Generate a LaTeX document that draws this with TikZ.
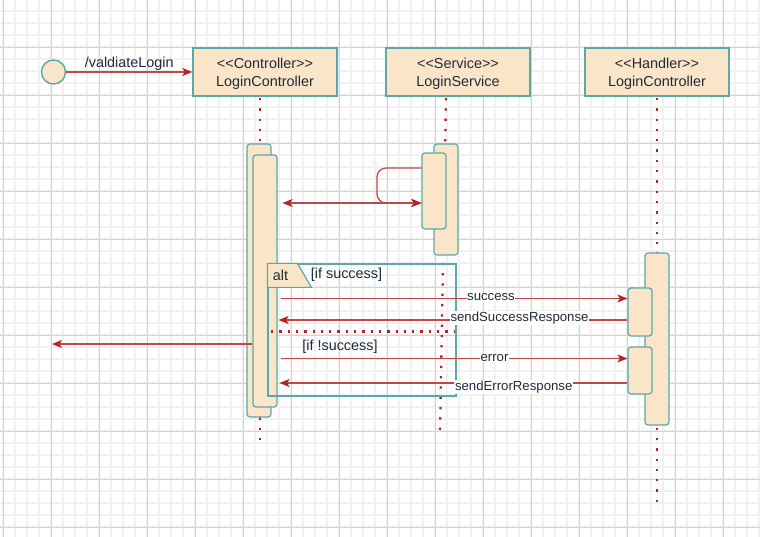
\documentclass[tikz,border=0pt]{standalone}
\usepackage{fontspec}
\setmainfont{Liberation Sans}
\usetikzlibrary{arrows.meta}
\definecolor{peach}{HTML}{FBE5C8}
\definecolor{boxline}{HTML}{5AA9A6}
\definecolor{msgred}{HTML}{B52424}
\definecolor{msgline}{HTML}{C04848}
\definecolor{ink}{HTML}{1E2B3A}
\definecolor{gridmajor}{HTML}{D3D3D3}
\definecolor{gridminor}{HTML}{F1F1F1}
% stereotype brackets, kept as two separate angle characters
\newcommand{\stereo}[1]{<\kern0pt<#1>\kern0pt>}
\begin{document}
\begin{tikzpicture}[x=1pt,y=-1pt,
  lbl/.style={font=\fontsize{14.4}{17}\selectfont, text=ink},
  mlbl/.style={font=\fontsize{13.2}{15}\selectfont, text=ink, fill=white, inner sep=0.6pt},
  role/.style={draw=boxline, line width=1.4pt, fill=peach, minimum width=144pt, minimum height=48pt, inner sep=0pt},
  rolelbl/.style={align=center, font=\fontsize{14.4}{18}\selectfont, text=ink, inner sep=0pt},
  bar/.style={draw=boxline, line width=1.2pt, fill=peach, rounded corners=3pt, minimum width=24pt, inner sep=0pt},
  life/.style={draw=msgred, line width=2.3pt, dash pattern=on 2.3pt off 8pt},
  msg/.style={draw=msgline, line width=1.3pt, -{Stealth[length=10pt,width=8pt,inset=2.5pt,color=msgred]}},
  dmsg/.style={draw=msgline, line width=1.3pt, {Stealth[length=10pt,width=8pt,inset=2.5pt,color=msgred]}-{Stealth[length=10pt,width=8pt,inset=2.5pt,color=msgred]}}
]
\useasboundingbox (0,0) rectangle (760,537);
% background grid
\fill[white] (0,0) rectangle (760,537);
\foreach \x in {3,15,...,759} \draw[gridminor, line width=1.6pt] (\x,0) -- (\x,537);
\foreach \y in {11,23,...,536} \draw[gridminor, line width=1.6pt] (0,\y) -- (760,\y);
\foreach \x in {3,51,...,759} \draw[gridmajor, line width=0.9pt] (\x,0) -- (\x,537);
\foreach \y in {47,95,...,536} \draw[gridmajor, line width=0.9pt] (0,\y) -- (760,\y);

% participants
\node[circle, draw=boxline, line width=1.4pt, fill=peach, minimum size=24pt, inner sep=0pt] (start) at (53.5,72) {};
\node[role] (ctrl) at (265,72) {};
\node[role] (svc) at (458,72) {};
\node[role] (hdl) at (657,72) {};
\node[rolelbl] (ctrlname) at ([yshift=-2pt]ctrl.center) {\stereo{Controller}\\LoginController};
\node[rolelbl] (svcname) at ([yshift=-2pt]svc.center) {\stereo{Service}\\LoginService};
\node[rolelbl] (hdlname) at ([yshift=-2pt]hdl.center) {\stereo{Handler}\\LoginController};

% lifelines
\coordinate (ctrlEnd) at (260,446);
\coordinate (svcEnd) at (440,432);
\coordinate (hdlEnd) at (657,506);
\draw[life] (260,98) -- (ctrlEnd);
\draw[life] (446,98) -- (svcEnd);
\draw[life] (657,98) -- (hdlEnd);

% activation bars
\node[bar, minimum height=273pt] (co) at (259,280.5) {};
\node[bar, minimum height=252pt] (ci) at (265,281) {};
\node[bar, minimum height=111pt] (so) at (446,199.5) {};
\node[bar, minimum height=76pt] (si) at (434,191) {};
\node[bar, minimum height=172pt] (ho) at (657,339) {};
\node[bar, minimum height=48pt] (h1) at (640,312) {};
\node[bar, minimum height=47pt] (h2) at (640,370.5) {};

% entry call
\draw[msg] (start) -- (ctrl.west |- start) node[lbl, midway, above=-2pt] (entrylbl) {/valdiateLogin};

% self call and exchange with the service
\draw[msg, rounded corners=9pt] (si.west |- 0,168) -- (377,168) -- (377,203) -- (si.west |- 0,203);
\draw[dmsg] ([xshift=5pt]ci.east |- 0,203) -- (si.west |- 0,203);

% alt fragment
\node[draw=boxline, line width=1.2pt, minimum width=188pt, minimum height=132pt, inner sep=0pt] (alt) at (362,330) {};
\draw[boxline, line width=1.2pt, fill=peach] (alt.north west) -- ++(30,0) -- ++(14,24) -- ++(-44,0) -- cycle;
\node[lbl, anchor=west] (altlbl) at ([xshift=2pt, yshift=-12pt]alt.north west) {alt};
\node[lbl] (g1) at (346.5,274.5) {[if success]};
\node[lbl] (g2) at (340,346.5) {[if !success]};
\coordinate (divL) at (271,331.5);
\coordinate (divR) at (455,331.5);
\draw[draw=msgred, line width=2.3pt, dash pattern=on 2.3pt off 6pt] (divL) -- (divR);

% messages inside the fragment
\draw[msg] ([xshift=3pt]ci.east |- 0,298.5) -- (h1.west |- 0,298.5);
\node[mlbl] (m1) at (491,297.5) {success};
\draw[msg] (h1.west |- 0,320) -- ([xshift=1pt]ci.east |- 0,320);
\node[mlbl] (m2) at (519.5,318) {sendSuccessResponse};
\draw[msg] ([xshift=3pt]ci.east |- 0,358.5) -- (h2.west |- 0,358.5);
\node[mlbl] (m3) at (494.5,358) {error};
\draw[msg] (h2.west |- 0,383) -- ([xshift=2pt]ci.east |- 0,383);
\node[mlbl] (m4) at (513.7,387) {sendErrorResponse};

% reply leaving the controller
\coordinate (out) at (52,344);
\draw[msg] (ci.west |- out) -- (out);
\end{tikzpicture}
\end{document}
